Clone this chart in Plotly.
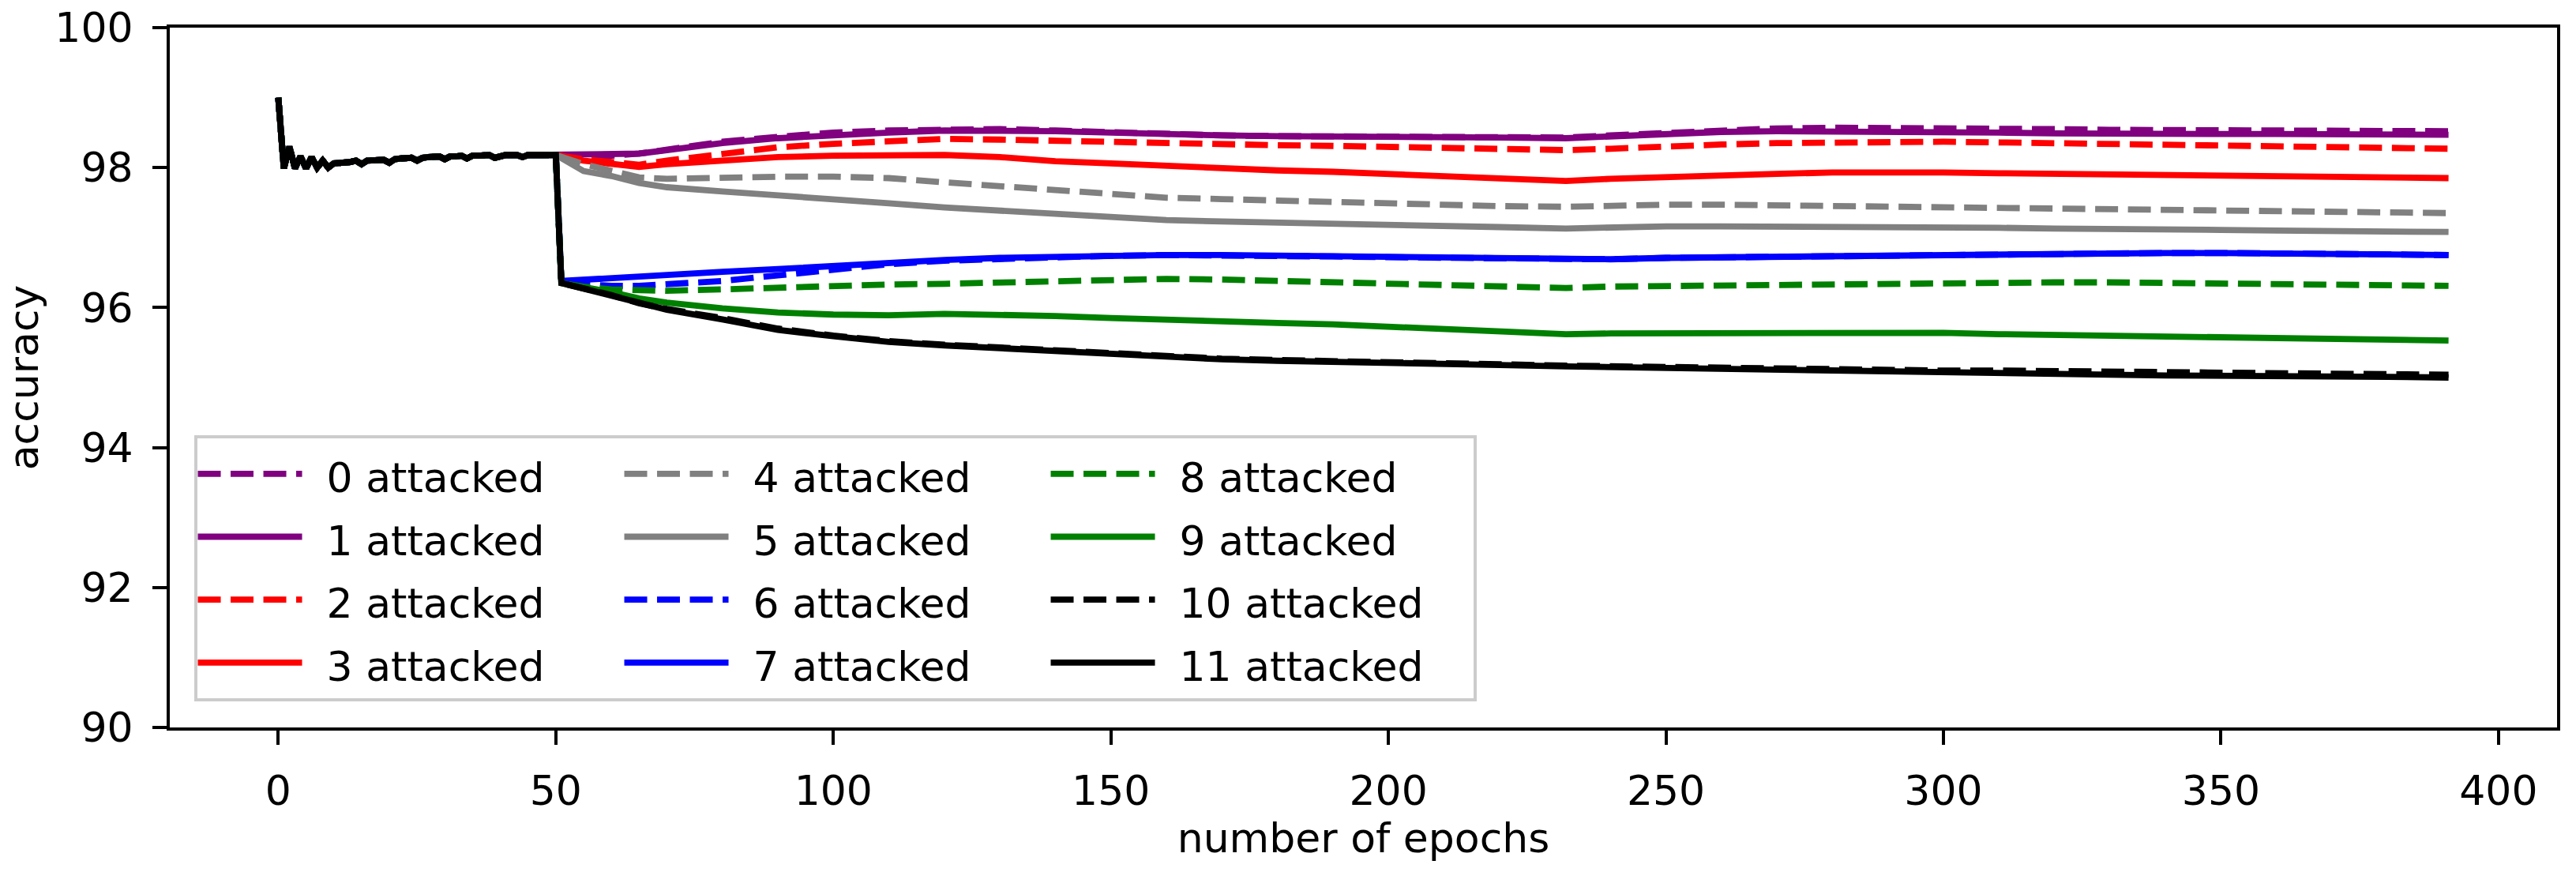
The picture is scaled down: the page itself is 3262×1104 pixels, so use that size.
import plotly.graph_objects as go

# ---------------- data ----------------
# warm-up phase shared by every run (epochs 0..50)
warmup_epochs = list(range(0, 51))
warmup_acc = [99.00, 97.99, 98.30, 97.99, 98.16, 97.99, 98.15, 98.00, 98.10, 98.00,
              98.06, 98.06, 98.07, 98.08, 98.10, 98.05, 98.10, 98.10, 98.11, 98.11,
              98.07, 98.12, 98.13, 98.13, 98.14, 98.10, 98.14, 98.15, 98.15, 98.16,
              98.12, 98.16, 98.16, 98.17, 98.13, 98.17, 98.17, 98.17, 98.18, 98.14,
              98.17, 98.18, 98.18, 98.18, 98.15, 98.18, 98.18, 98.18, 98.18, 98.18,
              98.18]

# epoch right after the attack starts (runs with >= 6 attacked drop here)
drop_epoch = 51
drop_acc = [None, None, None, None, None, None, 96.35, 96.38, 96.35, 96.35, 96.35, 96.35]

late_epochs = [55, 60, 65, 70, 80, 90, 100, 110, 120, 130, 140, 150, 160, 170, 180, 190,
               200, 210, 220, 232, 240, 250, 260, 270, 280, 290, 300, 310, 320, 330, 340,
               350, 360, 370, 380, 391]

acc_0 = [98.17, 98.17, 98.20, 98.26, 98.37, 98.44, 98.50, 98.53, 98.55, 98.55, 98.53, 98.50,
         98.48, 98.46, 98.45, 98.45, 98.44, 98.44, 98.44, 98.43, 98.46, 98.50, 98.54, 98.56,
         98.57, 98.57, 98.56, 98.55, 98.55, 98.54, 98.54, 98.53, 98.53, 98.53, 98.53, 98.52]
acc_1 = [98.18, 98.18, 98.20, 98.25, 98.35, 98.42, 98.47, 98.50, 98.53, 98.53, 98.52, 98.50,
         98.47, 98.46, 98.45, 98.44, 98.44, 98.44, 98.43, 98.42, 98.45, 98.48, 98.51, 98.52,
         98.52, 98.52, 98.51, 98.50, 98.49, 98.48, 98.48, 98.48, 98.48, 98.47, 98.47, 98.47]
acc_2 = [98.12, 98.08, 98.04, 98.10, 98.20, 98.29, 98.34, 98.38, 98.41, 98.40, 98.38, 98.37,
         98.35, 98.34, 98.32, 98.31, 98.30, 98.28, 98.26, 98.25, 98.27, 98.31, 98.33, 98.35,
         98.36, 98.37, 98.37, 98.36, 98.35, 98.33, 98.32, 98.31, 98.30, 98.29, 98.28, 98.27]
acc_3 = [98.10, 98.05, 98.01, 98.05, 98.11, 98.15, 98.17, 98.18, 98.18, 98.15, 98.09, 98.06,
         98.02, 97.99, 97.96, 97.94, 97.91, 97.88, 97.84, 97.81, 97.84, 97.87, 97.89, 97.91,
         97.93, 97.94, 97.93, 97.92, 97.91, 97.90, 97.89, 97.88, 97.87, 97.86, 97.85, 97.85]
acc_4 = [98.05, 97.95, 97.86, 97.84, 97.86, 97.87, 97.87, 97.85, 97.79, 97.73, 97.67, 97.61,
         97.57, 97.55, 97.53, 97.50, 97.48, 97.46, 97.45, 97.44, 97.46, 97.47, 97.47, 97.46,
         97.45, 97.44, 97.43, 97.42, 97.40, 97.39, 97.38, 97.37, 97.36, 97.36, 97.35, 97.35]
acc_5 = [97.95, 97.88, 97.78, 97.72, 97.66, 97.61, 97.56, 97.49, 97.43, 97.38, 97.33, 97.29,
         97.25, 97.23, 97.21, 97.20, 97.18, 97.16, 97.15, 97.13, 97.15, 97.16, 97.16, 97.16,
         97.16, 97.15, 97.15, 97.14, 97.13, 97.13, 97.12, 97.11, 97.10, 97.10, 97.09, 97.08]
acc_6 = [96.33, 96.31, 96.31, 96.33, 96.38, 96.46, 96.55, 96.62, 96.67, 96.70, 96.72, 96.74,
         96.75, 96.75, 96.74, 96.73, 96.72, 96.71, 96.70, 96.68, 96.69, 96.71, 96.72, 96.73,
         96.74, 96.75, 96.76, 96.77, 96.77, 96.77, 96.78, 96.78, 96.78, 96.77, 96.76, 96.75]
acc_7 = [96.40, 96.42, 96.44, 96.46, 96.51, 96.55, 96.60, 96.64, 96.68, 96.71, 96.73, 96.75,
         96.75, 96.75, 96.74, 96.73, 96.72, 96.71, 96.70, 96.68, 96.69, 96.71, 96.72, 96.73,
         96.74, 96.75, 96.76, 96.77, 96.77, 96.77, 96.78, 96.78, 96.78, 96.77, 96.76, 96.75]
acc_8 = [96.30, 96.26, 96.24, 96.24, 96.26, 96.29, 96.31, 96.33, 96.34, 96.36, 96.38, 96.40,
         96.41, 96.40, 96.38, 96.36, 96.34, 96.32, 96.30, 96.28, 96.30, 96.31, 96.32, 96.32,
         96.33, 96.33, 96.34, 96.35, 96.36, 96.36, 96.35, 96.34, 96.33, 96.32, 96.31, 96.31]
acc_9 = [96.30, 96.22, 96.13, 96.07, 95.99, 95.93, 95.90, 95.89, 95.91, 95.90, 95.88, 95.85,
         95.82, 95.80, 95.78, 95.76, 95.73, 95.70, 95.66, 95.62, 95.63, 95.63, 95.63, 95.64,
         95.65, 95.65, 95.64, 95.62, 95.61, 95.60, 95.59, 95.58, 95.57, 95.55, 95.54, 95.53]
acc_10 = [96.28, 96.18, 96.06, 95.98, 95.85, 95.70, 95.60, 95.52, 95.47, 95.43, 95.39, 95.33,
          95.29, 95.27, 95.25, 95.23, 95.21, 95.20, 95.19, 95.17, 95.16, 95.15, 95.14, 95.13,
          95.12, 95.11, 95.10, 95.10, 95.09, 95.08, 95.07, 95.07, 95.06, 95.05, 95.05, 95.04]
acc_11 = [96.27, 96.16, 96.05, 95.97, 95.83, 95.68, 95.59, 95.51, 95.46, 95.42, 95.37, 95.32,
          95.28, 95.26, 95.24, 95.22, 95.20, 95.19, 95.18, 95.16, 95.15, 95.13, 95.12, 95.10,
          95.09, 95.07, 95.06, 95.05, 95.04, 95.04, 95.03, 95.03, 95.02, 95.02, 95.01, 95.00]

series_names = ["0 attacked", "1 attacked", "2 attacked", "3 attacked",
                "4 attacked", "5 attacked", "6 attacked", "7 attacked",
                "8 attacked", "9 attacked", "10 attacked", "11 attacked"]
late_values = [acc_0, acc_1, acc_2, acc_3, acc_4, acc_5,
               acc_6, acc_7, acc_8, acc_9, acc_10, acc_11]

# ---------------- style ----------------
colors = ["purple", "purple", "red", "red", "gray", "gray",
          "blue", "blue", "green", "green", "black", "black"]
FONT = "DejaVu Sans"
FS = 52
LW = 7.8
DASH = "29px,12.5px"

fig = go.Figure()
for i, name in enumerate(series_names):
    x = list(warmup_epochs)
    y = list(warmup_acc)
    if drop_acc[i] is not None:
        x.append(drop_epoch)
        y.append(drop_acc[i])
    x += late_epochs
    y += late_values[i]
    fig.add_trace(go.Scatter(
        x=x, y=y, mode="lines",
        name='<span style="font-size:%dpx">\u2002%s</span>' % (FS, name),
        legendgroup="col%d" % (i // 4),
        line=dict(color=colors[i], width=LW,
                  dash=DASH if i % 2 == 0 else "solid"),
        hoverinfo="x+y",
    ))

axis_common = dict(
    showline=True, linecolor="black", linewidth=4, mirror=True,
    ticks="outside", ticklen=18, tickwidth=4, tickcolor="black",
    showgrid=False, zeroline=False, ticklabeloverflow="allow",
    automargin=False,
    tickfont=dict(family=FONT, size=FS, color="black"),
)

fig.update_layout(
    width=3262, height=1104,
    margin=dict(l=214.5, r=24, t=35.4, b=183, pad=0, autoexpand=False),
    paper_bgcolor="white", plot_bgcolor="white",
    font=dict(family=FONT, size=FS, color="black"),
    xaxis=dict(range=[-19.55, 410.55], tick0=0, dtick=50,
               title=dict(text="number of epochs", font=dict(family=FONT, size=FS), standoff=0),
               ticklabelstandoff=14, **axis_common),
    yaxis=dict(range=[90, 100], tick0=90, dtick=2,
               title=dict(text="accuracy", font=dict(family=FONT, size=FS), standoff=35),
               ticklabelstandoff=14, **axis_common),
    showlegend=True,
    legend=dict(
        x=0.0101, y=0.0373, xanchor="left", yanchor="bottom",
        orientation="h", traceorder="grouped",
        font=dict(family=FONT, size=59, color="black"),
        bgcolor="rgba(255,255,255,0.8)", bordercolor="#cccccc", borderwidth=4,
        itemwidth=132, entrywidth=393, tracegroupgap=0,
    ),
)

# remove the browser's default page margin so the figure fills the window exactly
fig.write_html("out.html",
               config={"displayModeBar": False},
               post_script="document.body.style.margin='0px';document.body.style.padding='0px';")
